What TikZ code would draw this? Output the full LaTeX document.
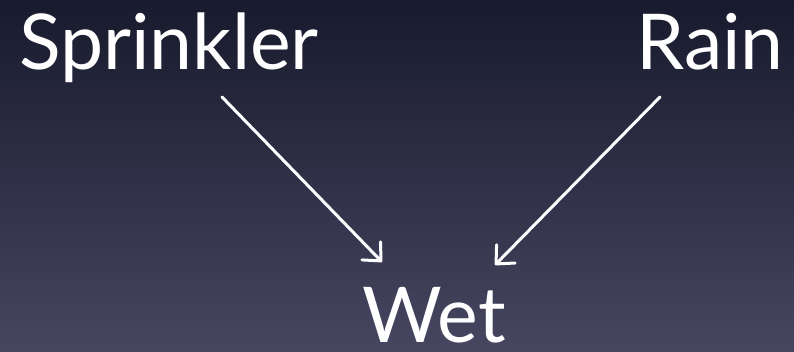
\documentclass[tikz,border=0pt]{standalone}
\usepackage{fontspec}
\setmainfont{Lato}
\usetikzlibrary{arrows.meta}
\begin{document}
\begin{tikzpicture}[x=1pt,y=1pt,
  lbl/.style={text=white,inner sep=0pt,font=\fontsize{77}{80}\selectfont},
  arr/.style={draw=white,line width=3pt,line cap=round,
    -{Straight Barb[length=14pt,width=26pt,line width=3pt,round]}}]
  \shade[top color={rgb,255:red,24;green,26;blue,45},bottom color={rgb,255:red,70;green,70;blue,96}]
    (0,0) rectangle (794,352);
  \useasboundingbox (0,0) rectangle (794,352);
  \node[lbl,anchor=base west] (s) at (19,282) {Sprinkler};
  \node[lbl,anchor=base east] (r) at (784,282) {Rain};
  \node[lbl,anchor=base west] (w) at (362,9) {Wet};
  \coordinate (s1) at (222,255);
  \coordinate (s2) at (382,90);
  \coordinate (r1) at (660,255);
  \coordinate (r2) at (495,87);
  \draw[arr] (s1) -- (s2);
  \draw[arr] (r1) -- (r2);
\end{tikzpicture}
\end{document}
